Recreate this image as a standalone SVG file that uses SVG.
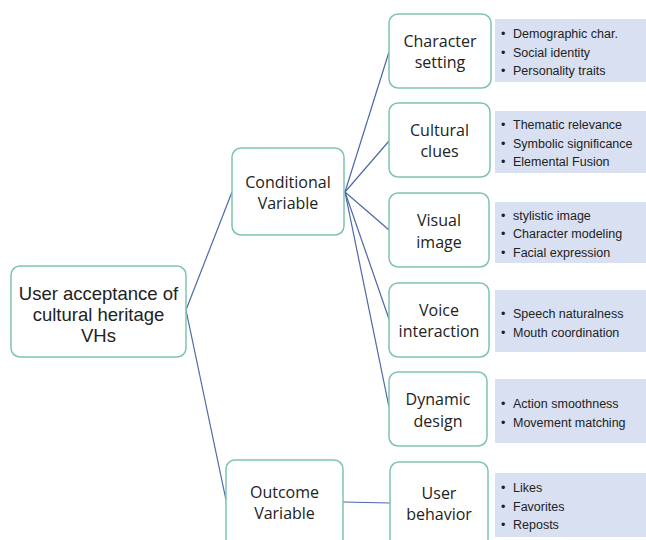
<svg xmlns="http://www.w3.org/2000/svg" width="646" height="540" viewBox="0 0 646 540">
<style>
.node{fill:#fff;stroke:#7fc3ae;stroke-width:1.5}
.lbl{font-family:"Open Sans","Noto Sans",sans-serif;fill:#222;text-anchor:middle}
.l16{font-size:16px}
.l18{font-family:"Liberation Sans",Arial,sans-serif;font-size:18.5px}
.bbox{fill:#d9e0f1}
.bul{font-family:"Liberation Sans",Arial,sans-serif;font-size:12.5px;fill:#222}
.conn{stroke:#4c68a8;stroke-width:1.2;fill:none}
</style>
<rect width="646" height="540" fill="#fff"/>
<g id="connectors">
<line class="conn" x1="186" y1="310" x2="232" y2="192"/>
<line class="conn" x1="186" y1="310" x2="226" y2="500"/>
<line class="conn" x1="345" y1="192" x2="389" y2="52"/>
<line class="conn" x1="345" y1="192" x2="389" y2="141"/>
<line class="conn" x1="345" y1="192" x2="389" y2="230"/>
<line class="conn" x1="345" y1="192" x2="389" y2="319"/>
<line class="conn" x1="345" y1="192" x2="389" y2="407"/>
<line class="conn" x1="343" y1="502" x2="390" y2="503"/>
</g>
<g id="root">
<rect class="node" x="11" y="266" width="175" height="91" rx="9"/>
<text class="lbl l18"><tspan x="98.5" y="300">User acceptance of</tspan><tspan x="98.5" y="321">cultural heritage</tspan><tspan x="98.5" y="342">VHs</tspan></text>
</g>
<g id="conditional">
<rect class="node" x="232" y="148" width="112" height="87" rx="9"/>
<text class="lbl l16"><tspan x="288" y="188">Conditional</tspan><tspan x="288" y="209">Variable</tspan></text>
</g>
<g id="outcome">
<rect class="node" x="226" y="460" width="117" height="90" rx="9"/>
<text class="lbl l16"><tspan x="284.5" y="498">Outcome</tspan><tspan x="284.5" y="519">Variable</tspan></text>
</g>
<g id="character">
<rect class="node" x="389" y="14" width="102" height="74" rx="9"/>
<text class="lbl l16"><tspan x="440" y="47">Character</tspan><tspan x="440" y="68">setting</tspan></text>
<rect class="bbox" x="495" y="19" width="151" height="63"/>
<text class="bul" x="501" y="38">•</text><text class="bul" x="513" y="38">Demographic char.</text>
<text class="bul" x="501" y="57">•</text><text class="bul" x="513" y="57">Social identity</text>
<text class="bul" x="501" y="75">•</text><text class="bul" x="513" y="75">Personality traits</text>
</g>
<g id="cultural">
<rect class="node" x="389" y="103" width="101" height="74" rx="9"/>
<text class="lbl l16"><tspan x="439.5" y="136">Cultural</tspan><tspan x="439.5" y="157">clues</tspan></text>
<rect class="bbox" x="495" y="111" width="151" height="62"/>
<text class="bul" x="501" y="129">•</text><text class="bul" x="513" y="129">Thematic relevance</text>
<text class="bul" x="501" y="148">•</text><text class="bul" x="513" y="148">Symbolic significance</text>
<text class="bul" x="501" y="166">•</text><text class="bul" x="513" y="166">Elemental Fusion</text>
</g>
<g id="visual">
<rect class="node" x="389" y="193" width="100" height="74" rx="9"/>
<text class="lbl l16"><tspan x="439" y="226">Visual</tspan><tspan x="439" y="248">image</tspan></text>
<rect class="bbox" x="495" y="202" width="151" height="61"/>
<text class="bul" x="501" y="220">•</text><text class="bul" x="513" y="220">stylistic image</text>
<text class="bul" x="501" y="238">•</text><text class="bul" x="513" y="238">Character modeling</text>
<text class="bul" x="501" y="257">•</text><text class="bul" x="513" y="257">Facial expression</text>
</g>
<g id="voice">
<rect class="node" x="389" y="283" width="100" height="74" rx="9"/>
<text class="lbl l16"><tspan x="439" y="316">Voice</tspan><tspan x="439" y="337">interaction</tspan></text>
<rect class="bbox" x="495" y="290" width="151" height="62"/>
<text class="bul" x="501" y="318">•</text><text class="bul" x="513" y="318">Speech naturalness</text>
<text class="bul" x="501" y="337">•</text><text class="bul" x="513" y="337">Mouth coordination</text>
</g>
<g id="dynamic">
<rect class="node" x="389" y="372" width="98" height="74" rx="9"/>
<text class="lbl l16"><tspan x="438" y="405">Dynamic</tspan><tspan x="438" y="427">design</tspan></text>
<rect class="bbox" x="495" y="379" width="151" height="64"/>
<text class="bul" x="501" y="408">•</text><text class="bul" x="513" y="408">Action smoothness</text>
<text class="bul" x="501" y="427">•</text><text class="bul" x="513" y="427">Movement matching</text>
</g>
<g id="userbehavior">
<rect class="node" x="390" y="462" width="98" height="88" rx="9"/>
<text class="lbl l16"><tspan x="439" y="499">User</tspan><tspan x="439" y="520">behavior</tspan></text>
<rect class="bbox" x="495" y="473" width="151" height="64"/>
<text class="bul" x="501" y="492">•</text><text class="bul" x="513" y="492">Likes</text>
<text class="bul" x="501" y="511">•</text><text class="bul" x="513" y="511">Favorites</text>
<text class="bul" x="501" y="529">•</text><text class="bul" x="513" y="529">Reposts</text>
</g>
</svg>
